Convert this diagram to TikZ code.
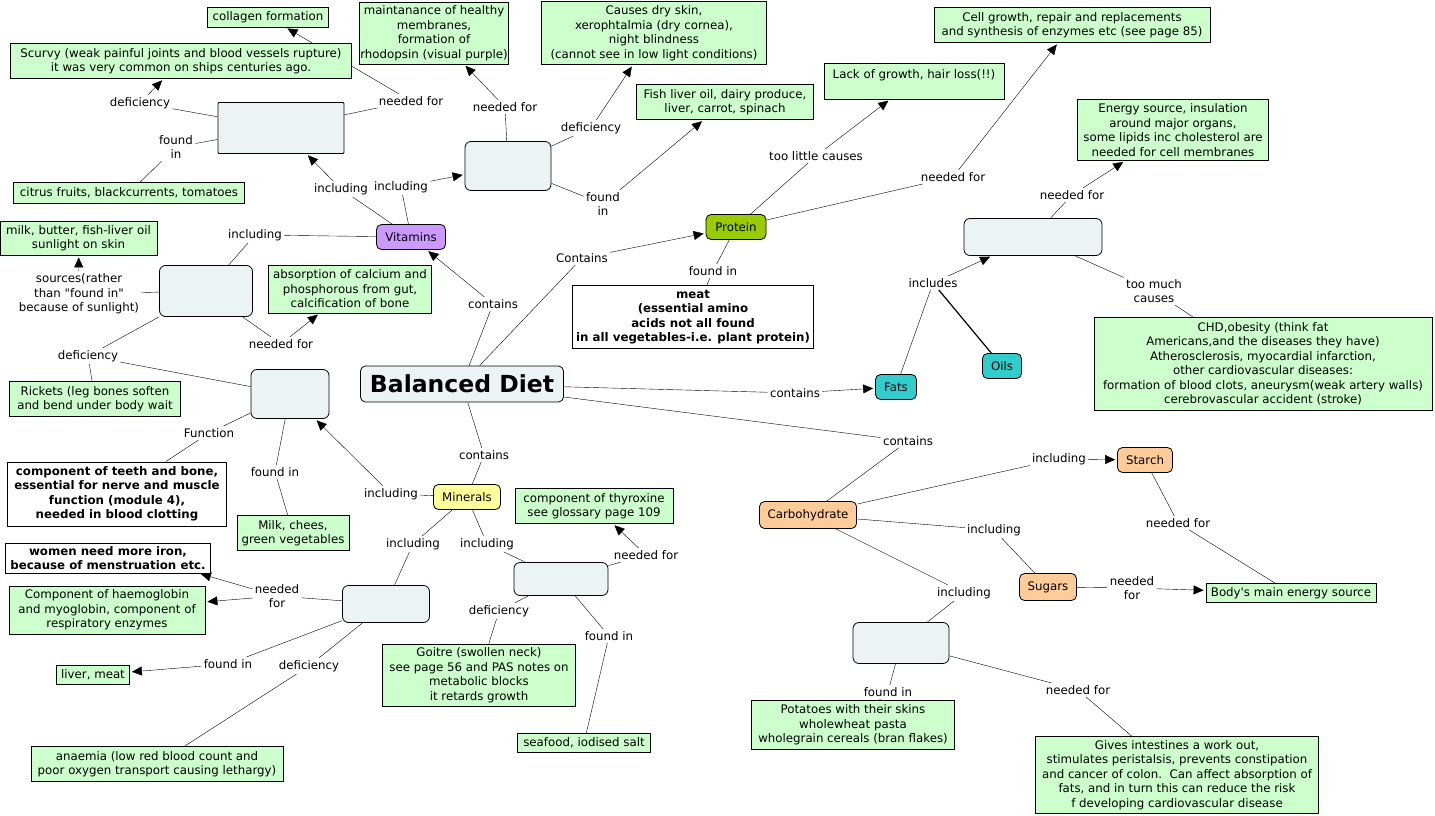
\documentclass[tikz,border=0pt]{standalone}
\usepackage{fontspec}
\setmainfont[Ligatures=TeXOff]{DejaVu Sans}
\usetikzlibrary{arrows.meta,backgrounds}
\definecolor{factgreen}{RGB}{204,255,204}
\definecolor{blankgrey}{RGB}{236,243,245}
\definecolor{vitpurple}{RGB}{204,153,255}
\definecolor{protgreen}{RGB}{153,204,0}
\definecolor{fatteal}{RGB}{51,204,204}
\definecolor{minyellow}{RGB}{255,255,153}
\definecolor{carbpeach}{RGB}{255,204,153}

\begin{document}
\begin{tikzpicture}[x=1pt,y=-1pt,line width=0.8pt,
  font=\fontsize{11.8}{14.5}\selectfont,
  fact/.style={rectangle,draw,fill=factgreen,align=center,inner sep=1pt},
  note/.style={rectangle,draw,fill=white,align=center,inner sep=1pt,font=\fontsize{11.8}{14.5}\selectfont\bfseries},
  topic/.style={rectangle,rounded corners=5pt,draw,align=center,inner sep=2pt,minimum height=25pt},
  blank/.style={rectangle,rounded corners=6pt,draw,fill=blankgrey},
  lbl/.style={align=center,inner sep=2pt},
  arr/.style={-{Triangle[length=10pt,width=9pt]},shorten >=2pt}]
\useasboundingbox (0,0) rectangle (1435,816);

% concepts
\node[topic,fill=blankgrey,minimum width=203pt,minimum height=36pt,font=\fontsize{23.5}{26}\selectfont\bfseries] (bd) at (462,384) {Balanced Diet};
\node[topic,fill=vitpurple,minimum width=69pt] (vit) at (411,237) {Vitamins};
\node[topic,fill=protgreen,minimum width=60pt] (prot) at (736,227) {Protein};
\node[topic,fill=fatteal,minimum width=41pt] (fats) at (896,387) {Fats};
\node[topic,fill=fatteal,minimum width=39pt] (oils) at (1002,366) {Oils};
\node[topic,fill=minyellow,minimum width=67pt] (minerals) at (467,497) {Minerals};
\node[topic,fill=carbpeach,minimum width=97pt,minimum height=27pt] (carbo) at (808,515) {Carbohydrate};
\node[topic,fill=carbpeach,minimum width=55pt] (starch) at (1145,460) {Starch};
\node[topic,fill=carbpeach,minimum width=57pt,minimum height=27pt] (sugars) at (1048,587) {Sugars};

% empty concepts
\node[blank,rounded corners=1pt,minimum width=126pt,minimum height=51pt] (bC) at (281,128) {};
\node[blank,minimum width=86pt,minimum height=49pt] (bA) at (508,166) {};
\node[blank,minimum width=93pt,minimum height=51pt] (bD) at (206,291) {};
\node[blank,minimum width=78pt,minimum height=49pt] (bCa) at (290,394) {};
\node[blank,minimum width=87pt,minimum height=37pt] (bFe) at (386,604) {};
\node[blank,minimum width=94pt,minimum height=33pt] (bI) at (561,579) {};
\node[blank,minimum width=138pt,minimum height=37pt] (bLip) at (1033,237) {};
\node[blank,minimum width=96pt,minimum height=41pt] (bFib) at (901,643) {};

% facts
\node[fact,minimum width=121pt,minimum height=20pt] (collagen) at (268,17) {collagen formation};
\node[fact,minimum width=341pt,minimum height=35pt] (scurvy) at (181,61) {Scurvy (weak painful joints and blood vessels rupture)\\it was very common on ships centuries ago.};
\node[fact,minimum width=137pt,minimum height=62pt] (rhodo) at (434,33) {maintanance of healthy\\membranes,\\formation of\\rhodopsin (visual purple)};
\node[fact,minimum width=225pt,minimum height=63pt] (dryskin) at (654,33) {Causes dry skin,\\xerophtalmia (dry cornea),\\night blindness\\(cannot see in low light conditions)};
\node[fact,minimum width=177pt,minimum height=35pt] (fishoil) at (725,102) {Fish liver oil, dairy produce,\\liver, carrot, spinach};
\node[fact,minimum width=180pt,minimum height=36pt] (lackgrowth) at (914,81) {Lack of growth, hair loss(!!)\\\mbox{}};
\node[fact,minimum width=276pt,minimum height=35pt] (cellgrowth) at (1072,25) {Cell growth, repair and replacements\\and synthesis of enzymes etc (see page 85)};
\node[fact,minimum width=191pt,minimum height=61pt] (energy) at (1173,130) {Energy source, insulation\\around major organs,\\some lipids inc cholesterol are\\needed for cell membranes};
\node[fact,minimum width=231pt,minimum height=21pt] (citrus) at (129,193) {citrus fruits, blackcurrents, tomatoes};
\node[fact,minimum width=157pt,minimum height=34pt] (milkbutter) at (78.5,238) {milk, butter, fish-liver oil\\sunlight on skin};
\node[fact,minimum width=163pt,minimum height=48pt] (calcium) at (350,289) {absorption of calcium and\\phosphorous from gut,\\calcification of bone};
\node[fact,minimum width=171pt,minimum height=35pt] (rickets) at (95,399) {Rickets (leg bones soften\\and bend under body wait};
\node[fact,minimum width=338pt,minimum height=93pt] (chd) at (1263,364) {CHD,obesity (think fat\\Americans,and the diseases they have)\\Atherosclerosis, myocardial infarction,\\other cardiovascular diseases:\\formation of blood clots, aneurysm(weak artery walls)\\cerebrovascular accident (stroke)};
\node[fact,minimum width=112pt,minimum height=35pt] (cheese) at (293,533) {Milk, chees,\\green vegetables};
\node[fact,minimum width=158pt,minimum height=35pt] (thyroxine) at (594,506) {component of thyroxine\\see glossary page 109};
\node[fact,minimum width=196pt,minimum height=48pt] (haemo) at (107,610) {Component of haemoglobin\\and myoglobin, component of\\respiratory enzymes};
\node[fact,minimum width=73pt,minimum height=19pt] (livermeat) at (93,675) {liver, meat};
\node[fact,minimum width=193pt,minimum height=62pt] (goitre) at (479,675) {Goitre (swollen neck)\\see page 56 and PAS notes on\\metabolic blocks\\it retards growth};
\node[fact,minimum width=252pt,minimum height=35pt] (anaemia) at (157,764) {anaemia (low red blood count and\\poor oxygen transport causing lethargy)};
\node[fact,minimum width=133pt,minimum height=19pt] (seafood) at (584,743) {seafood, iodised salt};
\node[fact,minimum width=170pt,minimum height=19pt] (bodyenergy) at (1291,593) {Body's main energy source};
\node[fact,minimum width=203pt,minimum height=49pt] (potatoes) at (853,725) {Potatoes with their skins\\wholewheat pasta\\wholegrain cereals (bran flakes)};
\node[fact,minimum width=283pt,minimum height=77pt] (intestines) at (1177,775) {Gives intestines a work out,\\stimulates peristalsis, prevents constipation\\and cancer of colon.\ \ Can affect absorption of\\fats, and in turn this can reduce the risk\\f developing cardiovascular disease};

% bold notes
\node[note,minimum width=241pt,minimum height=63pt] (meatnote) at (693,317) {meat\\(essential amino\\acids not all found\\in all vegetables-i.e. plant protein)};
\node[note,minimum width=219pt,minimum height=64pt] (teeth) at (117,494) {component of teeth and bone,\\essential for nerve and muscle\\function (module 4),\\needed in blood clotting};
\node[note,minimum width=205pt,minimum height=30pt] (women) at (108,558) {women need more iron,\\because of menstruation etc.};

% linking phrases
\node[lbl] (lCneed) at (411,101) {needed for};
\node[lbl] (lCdef) at (140,103) {deficiency};
\node[lbl] (lCfound) at (176,147) {found\\in};
\node[lbl] (lVinC) at (341,189) {including};
\node[lbl] (lVinA) at (401,187) {including};
\node[lbl] (lVinD) at (255,235) {including};
\node[lbl] (lBDvit) at (493,304) {contains};
\node[lbl] (lAneed) at (505,107) {needed for};
\node[lbl] (lAdef) at (591,128) {deficiency};
\node[lbl] (lAfound) at (603,204) {found\\in};
\node[lbl] (lDsrc) at (79,294) {sources(rather\\than "found in"\\because of sunlight)};
\node[lbl] (lDneed) at (281,344) {needed for};
\node[lbl] (lDdef) at (88,356) {deficiency};
\node[lbl] (lMinCa) at (391,494) {including};
\node[lbl] (lCafun) at (209,433) {Function};
\node[lbl] (lCafound) at (275,472) {found in};
\node[lbl] (lBDmin) at (484,455) {contains};
\node[lbl] (lMinFe) at (413,544) {including};
\node[lbl] (lMinI) at (487,544) {including};
\node[lbl] (lFeneed) at (277,596) {needed\\for};
\node[lbl] (lFefound) at (228,664) {found in};
\node[lbl] (lFedef) at (309,666) {deficiency};
\node[lbl] (lIneed) at (646,555) {needed for};
\node[lbl] (lIdef) at (499,611) {deficiency};
\node[lbl] (lIfound) at (609,636) {found in};
\node[lbl] (lBDprot) at (582,258) {Contains};
\node[lbl] (lPlittle) at (816,156) {too little causes};
\node[lbl] (lPneed) at (953,177) {needed for};
\node[lbl] (lPfound) at (713,271) {found in};
\node[lbl] (lBDfat) at (795,393) {contains};
\node[lbl] (lFinc) at (933,283) {includes};
\node[lbl] (lLipneed) at (1072,195) {needed for};
\node[lbl] (lLipmuch) at (1154,291) {too much\\causes};
\node[lbl] (lBDcarb) at (908,441) {contains};
\node[lbl] (lCinS) at (1059,459) {including};
\node[lbl] (lCinSu) at (994,530) {including};
\node[lbl] (lCinF) at (964,593) {including};
\node[lbl] (lSneed) at (1178,523) {needed for};
\node[lbl] (lSuneed) at (1132,588) {needed\\for};
\node[lbl] (lFibfound) at (888,692) {found in};
\node[lbl] (lFibneed) at (1078,690) {needed for};

% connectors
\begin{scope}[on background layer]
% vitamins
\draw (bd) -- (lBDvit); \draw[arr] (lBDvit) -- (vit);
\draw (vit) -- (lVinC); \draw[arr] (lVinC) -- (bC);
\draw (vit) -- (lVinA); \draw[arr] (lVinA) -- (bA);
\draw (vit) -- (lVinD) -- (bD);
\draw (bC) -- (lCneed); \draw[arr] (lCneed) -- (collagen);
\draw (bC) -- (lCdef); \draw[arr] (lCdef) -- (scurvy);
\draw (bC) -- (lCfound) -- (citrus);
\draw (bA) -- (lAneed); \draw[arr] (lAneed) -- (rhodo);
\draw (bA) -- (lAdef); \draw[arr] (lAdef) -- (dryskin);
\draw (bA) -- (lAfound); \draw[arr] (lAfound) -- (fishoil);
\draw (bD) -- (lDsrc); \draw[arr] (lDsrc) -- (milkbutter);
\draw (bD) -- (lDneed); \draw[arr] (lDneed) -- (calcium);
\draw (bD) -- (lDdef) -- (rickets);
\draw (bCa) -- (lDdef);
% minerals
\draw (bd) -- (lBDmin) -- (minerals);
\draw (minerals) -- (lMinCa); \draw[arr] (lMinCa) -- (bCa);
\draw (bCa) -- (lCafun) -- (teeth);
\draw (bCa) -- (lCafound) -- (cheese);
\draw (minerals) -- (lMinFe) -- (bFe);
\draw (minerals) -- (lMinI) -- (bI);
\draw (bFe) -- (lFeneed); \draw[arr] (lFeneed) -- ([xshift=-12pt]women.south east);
\draw[arr] (lFeneed) -- (haemo);
\draw (bFe) -- (lFefound); \draw[arr] (lFefound) -- (livermeat);
\draw (bFe) -- (lFedef) -- (anaemia);
\draw (bI) -- (lIneed); \draw[arr] (lIneed) -- (thyroxine);
\draw (bI) -- (lIdef) -- (goitre);
\draw (bI) -- (lIfound) -- (seafood);
% protein
\draw (bd) -- (lBDprot); \draw[arr] (lBDprot) -- (prot);
\draw (prot) -- (lPlittle); \draw[arr] (lPlittle) -- (lackgrowth);
\draw (prot) -- (lPneed); \draw[arr] (lPneed) -- (cellgrowth);
\draw (prot) -- (lPfound) -- (meatnote);
% fats
\draw (bd) -- (lBDfat); \draw[arr] (lBDfat) -- (fats);
\draw (fats) -- (lFinc); \draw[line width=1.2pt] (oils) -- (lFinc);
\draw[arr] (lFinc) -- (bLip);
\draw (bLip) -- (lLipneed); \draw[arr] (lLipneed) -- (energy);
\draw (bLip) -- (lLipmuch) -- (chd);
% carbohydrate
\draw (bd) -- (lBDcarb) -- (carbo);
\draw (carbo) -- (lCinS); \draw[arr] (lCinS) -- (starch);
\draw (carbo) -- (lCinSu) -- (sugars);
\draw (carbo) -- (lCinF) -- (bFib);
\draw (starch) -- (lSneed) -- (bodyenergy);
\draw (sugars) -- (lSuneed); \draw[arr] (lSuneed) -- (bodyenergy);
\draw (bFib) -- (lFibfound) -- (potatoes);
\draw (bFib) -- (lFibneed) -- (intestines);
\end{scope}
\end{tikzpicture}
\end{document}
